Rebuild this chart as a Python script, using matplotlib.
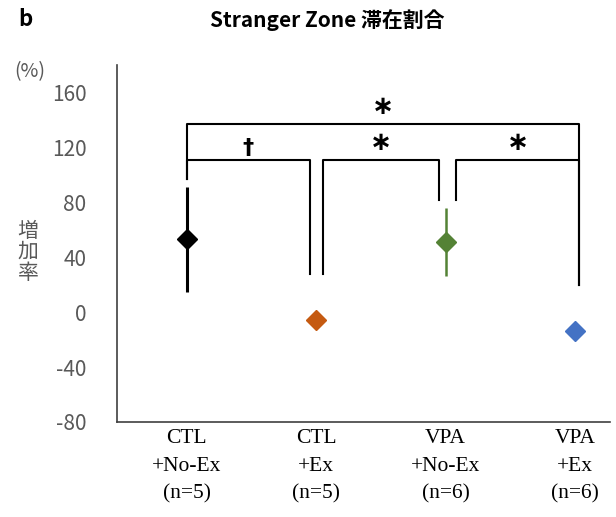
import matplotlib
matplotlib.use("Agg")
import matplotlib.pyplot as plt

# Group labels and summary statistics (increase rate, %)
groups = ["CTL\n+No-Ex\n(n=5)", "CTL\n+Ex\n(n=5)", "VPA\n+No-Ex\n(n=6)", "VPA\n+Ex\n(n=6)"]
means = [53, -6, 51, -14]
errors = [38, 0, 25, 0]
colors = ["#000000", "#C55A11", "#548235", "#4472C4"]
err_widths = [2.2, 0, 1.8, 0]

y_ticks = [-80, -40, 0, 40, 80, 120, 160]

# Significance brackets: (left group, right group, bar height, left drop, right drop, mark)
brackets = [
    (0, 3, 137, 97, 20, "∗"),
    (0, 1, 110.5, 97, 28, "†"),
    (1, 2, 110.5, 28, 81.5, "∗"),
    (2, 3, 110.5, 81.5, 20, "∗"),
]

fig = plt.figure(figsize=(6.16, 5.17), dpi=100)
ax = fig.add_axes([117 / 616, 1 - 422 / 517, (610 - 117) / 616, (422 - 65) / 517])

xs = list(range(len(groups)))
for x, m, e, c, w in zip(xs, means, errors, colors, err_widths):
    if e > 0:
        ax.plot([x, x], [m - e, m + e], color=c, lw=w, solid_capstyle="butt", zorder=2)
    ax.plot(x, m, marker="D", ms=10.5, color=c, mec=c, ls="none", zorder=3)

gap = 0.05
for i, j, h, dl, dr, mark in brackets:
    xl = i + (gap if i in (1, 2) else 0)
    xr = j - (gap if j in (1, 2) else 0)
    if j == 3:
        xr = j + 0.03
    if (i, j) == (2, 3):
        xl = i + 0.08
    ax.plot([xl, xl, xr, xr], [dl, h, h, dr], color="black", lw=1.5, zorder=1)
    is_star = mark == "∗"
    ax.text((xl + xr) / 2, h + (3 if is_star else 2), mark,
            ha="center", va="bottom",
            fontsize=19 if is_star else 16, fontweight="bold",
            family="DejaVu Sans", color="black")

ax.set_xlim(-0.54, 3.27)
ax.set_ylim(-80, 180)
ax.set_yticks(y_ticks)
ax.set_yticklabels([str(v) for v in y_ticks], family="Noto Sans CJK JP",
                   fontsize=15, color="#595959")
ax.set_xticks(xs)
ax.set_xticklabels(groups, family="Liberation Serif", fontsize=15.5,
                   linespacing=1.62, color="black")
ax.tick_params(axis="y", length=0, pad=22)
ax.tick_params(axis="x", length=0, pad=5)

for s in ("top", "right"):
    ax.spines[s].set_visible(False)
for s in ("left", "bottom"):
    ax.spines[s].set_color("#404040")
    ax.spines[s].set_linewidth(1.2)

fig.text(25 / 616, 1 - 20 / 517, "b", ha="center", va="center",
         fontsize=16, fontweight="bold", family="Noto Sans CJK JP")
fig.text(327 / 616, 1 - 20 / 517, "Stranger Zone 滞在割合", ha="center", va="center",
         fontsize=15, fontweight="bold", family="Noto Sans CJK JP")
fig.text(30 / 616, 1 - 72 / 517, "(%)", ha="center", va="center",
         fontsize=14, color="#595959", family="Noto Sans CJK JP")
fig.text(28 / 616, 1 - 252 / 517, "増\n加\n率", ha="center", va="center",
         fontsize=15, color="#595959", family="Noto Sans CJK JP", linespacing=0.95)

fig.savefig("out.png", dpi=100)
